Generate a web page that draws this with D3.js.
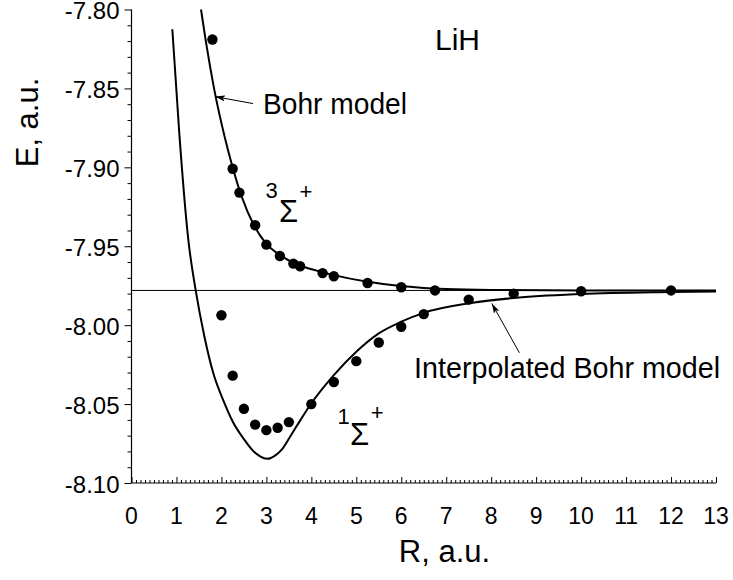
<!DOCTYPE html>
<html>
<head>
<meta charset="utf-8">
<script src="https://cdn.jsdelivr.net/npm/d3@7"></script>
<style>
  html, body { margin: 0; padding: 0; background: #fff; }
  svg { display: block; font-family: "Liberation Sans", Arial, Helvetica, sans-serif; }
</style>
</head>
<body>
<svg id="chart" width="733" height="580"></svg>
<script>
// ---------- data ----------
// Computed points, triplet state (3Σ+)
const tripletR = [1.8, 2.25, 2.4, 2.75, 3.0, 3.3, 3.6, 3.75, 4.25, 4.5, 5.25, 6.0, 6.75];
const tripletE = [-7.819, -7.9009, -7.916, -7.9367, -7.949, -7.9562, -7.961, -7.9627, -7.967, -7.969, -7.9733, -7.976, -7.978];
// Computed points, singlet state (1Σ+)
const singletR = [2.0, 2.25, 2.5, 2.75, 3.0, 3.25, 3.5, 4.0, 4.5, 5.0, 5.5, 6.0, 6.5, 7.5, 8.5, 10.0, 12.0];
const singletE = [-7.9937, -8.032, -8.053, -8.063, -8.0665, -8.065, -8.0614, -8.050, -8.036, -8.0228, -8.011, -8.001, -7.993, -7.9838, -7.980, -7.9785, -7.978];
// Bohr model curve (samples)
const bohrR = [1.546, 1.65, 1.75, 1.85, 2.0, 2.15, 2.3, 2.45, 2.72, 3.0, 3.3, 3.6, 3.75, 4.25, 4.5, 5.25, 6.0, 6.5, 7.0, 8.0, 10.0, 13.0];
const bohrE = [-7.800, -7.8195, -7.8365, -7.852, -7.872, -7.8895, -7.905, -7.9185, -7.9365, -7.9485, -7.9555, -7.9605, -7.9622, -7.9665, -7.9683, -7.9725, -7.9752, -7.9764, -7.9771, -7.9777, -7.978, -7.978];
// Interpolated Bohr model curve
const interpR = [0.908, 1.063, 1.264, 1.428, 1.62, 1.82, 2.04, 2.25, 2.5, 2.7, 2.86, 3.02, 3.2, 3.35, 3.53, 3.75, 4.0, 4.5, 5.0, 5.5, 6.0, 6.5, 7.5, 8.5, 10.0, 12.0, 13.0];
const interpE = [-7.8125, -7.8785, -7.946, -7.978, -8.007, -8.0305, -8.0475, -8.061, -8.0722, -8.0795, -8.0832, -8.0847, -8.0825, -8.0785, -8.0705, -8.0605, -8.0495, -8.0316, -8.0168, -8.0052, -7.9978, -7.9922, -7.9862, -7.9828, -7.9803, -7.9790, -7.9786];
// Asymptote E(Li) + E(H)
const asymptoteE = -7.978;
// Axes
const xDomain = [0, 13];
const yDomain = [-8.10, -7.80];
const xTicks = [0, 1, 2, 3, 4, 5, 6, 7, 8, 9, 10, 11, 12, 13];
const yTicks = [-8.10, -8.05, -8.00, -7.95, -7.90, -7.85, -7.80];
const xLabel = "R, a.u.";
const yLabel = "E, a.u.";

// ---------- layout ----------
const svg = d3.select("#chart");
const x = d3.scaleLinear().domain(xDomain).range([131.5, 716]);
const y = d3.scaleLinear().domain(yDomain).range([483, 9.5]);

const xMinor = d3.range(0, 130 + 1).map(i => i / 10).filter(v => Math.abs(v - Math.round(v)) > 1e-9);
const yMinor = d3.range(-810, -780 + 1).map(i => i / 100).filter(v => Math.abs(v * 20 - Math.round(v * 20)) > 1e-6);

// minor ticks x (inward, upward)
svg.append("g")
  .attr("transform", `translate(0,${y(yDomain[0])})`)
  .call(d3.axisTop(x).tickValues(xMinor).tickSize(3).tickFormat(""))
  .call(g => g.select(".domain").remove())
  .call(g => g.selectAll("line").attr("stroke", "#000"));
// major ticks x
const gx = svg.append("g")
  .attr("transform", `translate(0,${y(yDomain[0])})`)
  .call(d3.axisTop(x).tickValues(xTicks).tickSize(6).tickFormat(""));
gx.select(".domain").attr("d", `M${x(xDomain[0])},0H${x(xDomain[1])}`).attr("stroke", "#000").attr("stroke-width", 1.2);
gx.selectAll("line").attr("stroke", "#000");
// x tick labels
svg.append("g").selectAll("text").data(xTicks).join("text")
  .attr("x", d => x(d)).attr("y", 524)
  .attr("text-anchor", "middle")
  .attr("font-size", 23)
  .text(d => d);

// y minor ticks (outward, left)
svg.append("g")
  .attr("transform", `translate(${x(xDomain[0])},0)`)
  .call(d3.axisLeft(y).tickValues(yMinor).tickSize(4).tickFormat(""))
  .call(g => g.select(".domain").remove())
  .call(g => g.selectAll("line").attr("stroke", "#000"));
const gy = svg.append("g")
  .attr("transform", `translate(${x(xDomain[0])},0)`)
  .call(d3.axisLeft(y).tickValues(yTicks).tickSize(7).tickPadding(5).tickFormat(d => d.toFixed(2)));
gy.select(".domain").attr("d", `M0,${y(yDomain[1])}V${y(yDomain[0])}`).attr("stroke", "#000").attr("stroke-width", 1.2);
gy.selectAll("line").attr("stroke", "#000");
gy.selectAll("text").attr("font-size", 24).attr("font-family", "Liberation Sans, Arial, sans-serif").attr("fill", "#000")
  .attr("x", -12).attr("dy", "0.38em");

// axis titles
svg.append("text")
  .attr("x", 444.5).attr("y", 562)
  .attr("text-anchor", "middle").attr("font-size", 31)
  .text(xLabel);
svg.append("text")
  .attr("transform", "translate(38,122.5) rotate(-90)")
  .attr("text-anchor", "middle").attr("font-size", 31)
  .text(yLabel);

// asymptote
svg.append("line")
  .attr("x1", x(xDomain[0])).attr("x2", x(xDomain[1]))
  .attr("y1", y(asymptoteE)).attr("y2", y(asymptoteE))
  .attr("stroke", "#000").attr("stroke-width", 1);

// curves
const line = d3.line().x(d => x(d[0])).y(d => y(d[1])).curve(d3.curveMonotoneX);
svg.append("path")
  .attr("d", line(bohrR.map((r, i) => [r, bohrE[i]])))
  .attr("fill", "none").attr("stroke", "#000").attr("stroke-width", 2);
svg.append("path")
  .attr("d", line(interpR.map((r, i) => [r, interpE[i]])))
  .attr("fill", "none").attr("stroke", "#000").attr("stroke-width", 2);

// points
svg.append("g").selectAll("circle").data(tripletR.map((r, i) => [r, tripletE[i]])).join("circle")
  .attr("cx", d => x(d[0])).attr("cy", d => y(d[1])).attr("r", 5.2).attr("fill", "#000");
svg.append("g").selectAll("circle").data(singletR.map((r, i) => [r, singletE[i]])).join("circle")
  .attr("cx", d => x(d[0])).attr("cy", d => y(d[1])).attr("r", 5.2).attr("fill", "#000");

// arrow marker
svg.append("defs").append("marker")
  .attr("id", "arr").attr("viewBox", "0 0 10 6").attr("refX", 10).attr("refY", 3)
  .attr("markerWidth", 10).attr("markerHeight", 6).attr("markerUnits", "userSpaceOnUse")
  .attr("orient", "auto")
  .append("path").attr("d", "M0,0L10,3L0,6L2,3Z").attr("fill", "#000");

// annotations
svg.append("text").attr("x", x(6.75)).attr("y", y(-7.8257)).attr("font-size", 30).text("LiH");

svg.append("text").attr("x", x(2.925)).attr("y", y(-7.8662)).attr("font-size", 30)
  .attr("textLength", 144).attr("lengthAdjust", "spacingAndGlyphs").text("Bohr model");
svg.append("line")
  .attr("x1", x(2.703)).attr("y1", y(-7.8596)).attr("x2", x(1.858)).attr("y2", y(-7.8552))
  .attr("stroke", "#000").attr("stroke-width", 1).attr("marker-end", "url(#arr)");

svg.append("text").attr("x", x(6.285)).attr("y", y(-8.0337)).attr("font-size", 30)
  .attr("textLength", 306).attr("lengthAdjust", "spacingAndGlyphs").text("Interpolated Bohr model");
svg.append("line")
  .attr("x1", x(8.627)).attr("y1", y(-8.0175)).attr("x2", x(8.013)).attr("y2", y(-7.9862))
  .attr("stroke", "#000").attr("stroke-width", 1).attr("marker-end", "url(#arr)");

// term symbols
function term(mult, rSup, eSup, rSig, eSig, rPlus, ePlus) {
  svg.append("text").attr("x", x(rSup)).attr("y", y(eSup)).attr("font-size", 22).text(mult);
  svg.append("text").attr("x", x(rSig)).attr("y", y(eSig)).attr("font-size", 31).text("Σ");
  svg.append("text").attr("x", x(rPlus)).attr("y", y(ePlus)).attr("font-size", 22)
    .attr("text-anchor", "middle").attr("dy", "0.35em").text("+");
}
term("3", 2.98, -7.9194, 3.281, -7.9344, 3.882, -7.915);
term("1", 4.58, -8.0626, 4.861, -8.0759, 5.462, -8.055);
</script>
</body>
</html>
